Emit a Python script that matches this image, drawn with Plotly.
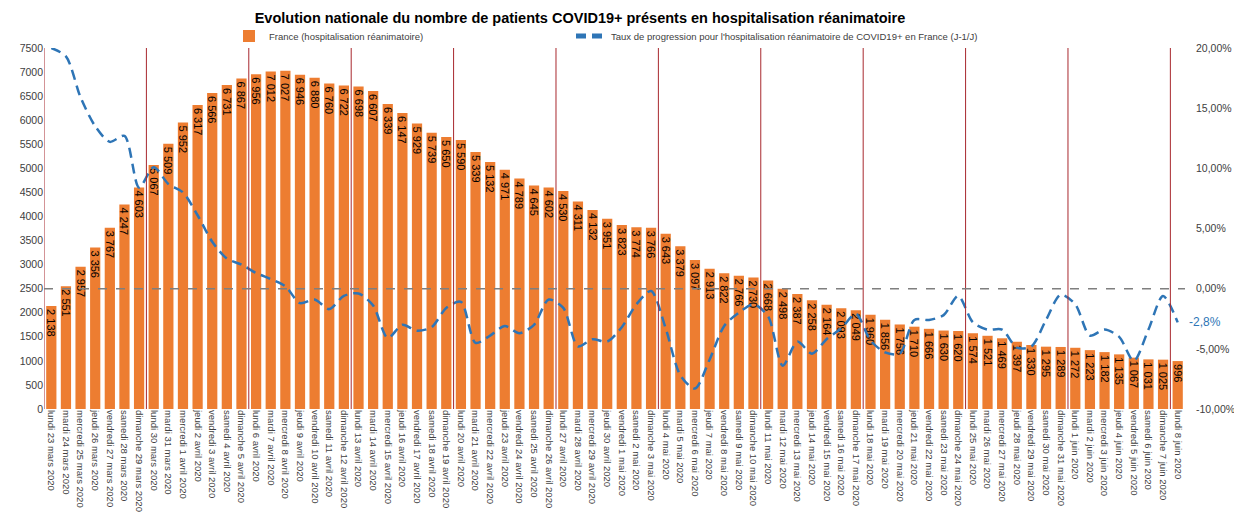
import plotly.graph_objects as go

dates = [
    "lundi 23 mars 2020", "mardi 24 mars 2020", "mercredi 25 mars 2020", "jeudi 26 mars 2020",
    "vendredi 27 mars 2020", "samedi 28 mars 2020", "dimanche 29 mars 2020",
    "lundi 30 mars 2020", "mardi 31 mars 2020", "mercredi 1 avril 2020", "jeudi 2 avril 2020",
    "vendredi 3 avril 2020", "samedi 4 avril 2020", "dimanche 5 avril 2020",
    "lundi 6 avril 2020", "mardi 7 avril 2020", "mercredi 8 avril 2020", "jeudi 9 avril 2020",
    "vendredi 10 avril 2020", "samedi 11 avril 2020", "dimanche 12 avril 2020",
    "lundi 13 avril 2020", "mardi 14 avril 2020", "mercredi 15 avril 2020", "jeudi 16 avril 2020",
    "vendredi 17 avril 2020", "samedi 18 avril 2020", "dimanche 19 avril 2020",
    "lundi 20 avril 2020", "mardi 21 avril 2020", "mercredi 22 avril 2020", "jeudi 23 avril 2020",
    "vendredi 24 avril 2020", "samedi 25 avril 2020", "dimanche 26 avril 2020",
    "lundi 27 avril 2020", "mardi 28 avril 2020", "mercredi 29 avril 2020", "jeudi 30 avril 2020",
    "vendredi 1 mai 2020", "samedi 2 mai 2020", "dimanche 3 mai 2020",
    "lundi 4 mai 2020", "mardi 5 mai 2020", "mercredi 6 mai 2020", "jeudi 7 mai 2020",
    "vendredi 8 mai 2020", "samedi 9 mai 2020", "dimanche 10 mai 2020",
    "lundi 11 mai 2020", "mardi 12 mai 2020", "mercredi 13 mai 2020", "jeudi 14 mai 2020",
    "vendredi 15 mai 2020", "samedi 16 mai 2020", "dimanche 17 mai 2020",
    "lundi 18 mai 2020", "mardi 19 mai 2020", "mercredi 20 mai 2020", "jeudi 21 mai 2020",
    "vendredi 22 mai 2020", "samedi 23 mai 2020", "dimanche 24 mai 2020",
    "lundi 25 mai 2020", "mardi 26 mai 2020", "mercredi 27 mai 2020", "jeudi 28 mai 2020",
    "vendredi 29 mai 2020", "samedi 30 mai 2020", "dimanche 31 mai 2020",
    "lundi 1 juin 2020", "mardi 2 juin 2020", "mercredi 3 juin 2020", "jeudi 4 juin 2020",
    "vendredi 5 juin 2020", "samedi 6 juin 2020", "dimanche 7 juin 2020",
    "lundi 8 juin 2020",
]

patients = [
    2138, 2551, 2957, 3356, 3767, 4247, 4603,
    5067, 5509, 5952, 6317, 6566, 6731, 6867,
    6956, 7012, 7027, 6946, 6880, 6760, 6722,
    6698, 6607, 6339, 6147, 5929, 5739, 5650,
    5590, 5339, 5132, 4971, 4789, 4645, 4602,
    4530, 4311, 4132, 3951, 3823, 3774, 3766,
    3643, 3379, 3097, 2913, 2822, 2766, 2730,
    2668, 2498, 2387, 2258, 2164, 2093, 2049,
    1960, 1856, 1756, 1710, 1666, 1630, 1620,
    1574, 1521, 1469, 1397, 1330, 1295, 1289,
    1272, 1223, 1182, 1135, 1067, 1031, 1025,
    996,
]

# Taux de progression (%)
taux = [
    20.0, 19.3, 15.9, 13.5, 12.2, 12.7, 8.4,
    10.1, 8.7, 8.0, 6.1, 3.9, 2.5, 2.0,
    1.3, 0.8, 0.2, -1.2, -0.9, -1.7, -0.6,
    -0.4, -1.4, -4.1, -3.0, -3.5, -3.2, -1.6,
    -1.1, -4.5, -3.9, -3.1, -3.7, -3.0, -0.9,
    -1.6, -4.8, -4.2, -4.4, -3.2, -1.3, -0.2,
    -3.3, -7.2, -8.3, -5.9, -3.1, -2.0, -1.3,
    -2.3, -6.4, -4.4, -5.4, -4.2, -3.3, -2.1,
    -4.3, -5.3, -5.4, -2.6, -2.6, -2.2, -0.6,
    -2.8, -3.4, -3.4, -4.9, -4.8, -2.6, -0.5,
    -1.3, -3.9, -3.4, -4.0, -6.0, -3.4, -0.6,
    -2.8,
]

left_ticks = [0, 500, 1000, 1500, 2000, 2500, 3000, 3500, 4000, 4500, 5000, 5500, 6000, 6500, 7000, 7500]
right_ticks = [-10, -5, 0, 5, 10, 15, 20]
right_ticktext = ["-10,00%", "-5,00%", "0,00%", "5,00%", "10,00%", "15,00%", "20,00%"]

bar_labels = [f"{v:,}".replace(",", " ") for v in patients]
FONT = "Liberation Sans, Arial, sans-serif"

# The page body has an 8px margin: figure is sized to fill the remaining window.
W, H = 1234, 513

fig = go.Figure()
fig.add_trace(go.Bar(
    x=dates, y=patients, name="France (hospitalisation réanimatoire)",
    marker=dict(color="#ED7D31", line=dict(width=0)),
    text=bar_labels, textposition="inside", insidetextanchor="end",
    textangle=90, constraintext="none", cliponaxis=False,
    textfont=dict(color="#000000", size=11, family=FONT),
    legend="legend",
))
fig.add_trace(go.Scatter(
    x=dates, y=taux, yaxis="y2", mode="lines",
    name="Taux de progression pour l'hospitalisation réanimatoire de COVID19+ en France (J-1/J)",
    line=dict(color="#2E75B6", width=2.5, dash="10px,6px", shape="spline", smoothing=0.8),
    legend="legend2",
))

shapes = []
for i, d in enumerate(dates):
    if d.startswith("lundi"):
        shapes.append(dict(type="line", xref="x", yref="paper", x0=i - 0.5, x1=i - 0.5, y0=0, y1=1,
                           line=dict(color="#A8282E", width=1), layer="above"))
shapes.append(dict(type="line", xref="paper", yref="y2", x0=0, x1=1, y0=0, y1=0,
                   line=dict(color="#7F7F7F", width=1.5, dash="dash"), layer="above"))

legend_common = dict(orientation="h", xanchor="left", yanchor="middle",
                     xref="container", yref="container", y=1 - 28 / H,
                     font=dict(size=9.5, color="#404040"), bgcolor="rgba(0,0,0,0)",
                     itemsizing="constant")

fig.update_layout(
    width=W, height=H,
    margin=dict(l=36, r=57, t=40, b=112, autoexpand=False),
    paper_bgcolor="white", plot_bgcolor="white",
    font=dict(family=FONT, color="#404040", size=10),
    title=dict(text="<b>Evolution nationale du nombre de patients COVID19+ présents en hospitalisation réanimatoire</b>",
               x=572 / W, xanchor="center", y=1 - 10 / H, yanchor="middle",
               font=dict(size=14.5, color="#000000", family=FONT)),
    bargap=0.3,
    showlegend=True,
    legend=dict(x=221 / W, **legend_common),
    legend2=dict(x=563 / W, **legend_common),
    xaxis=dict(type="category", range=[-0.5, len(dates) - 0.5], tickangle=90,
               tickfont=dict(size=9.5, color="#404040"), showgrid=False, ticks="",
               automargin=False, showline=False, zeroline=False),
    yaxis=dict(range=[0, 7500], tickvals=left_ticks, ticktext=[str(t) for t in left_ticks],
               showgrid=False, zeroline=False, ticks="", tickfont=dict(size=10.5, color="#404040"),
               automargin=False),
    yaxis2=dict(range=[-10, 20], overlaying="y", side="right", tickvals=right_ticks,
                ticktext=right_ticktext, showgrid=False, zeroline=False, ticks="",
                tickfont=dict(size=10.5, color="#404040"), automargin=False, ticklabelstandoff=10),
    shapes=shapes,
    annotations=[dict(x=dates[-1], y=taux[-1], xref="x", yref="y2", text="-2,8%", showarrow=False,
                      xanchor="left", xshift=9, font=dict(color="#2E75B6", size=12))],
)

fig.write_html("out.html")
